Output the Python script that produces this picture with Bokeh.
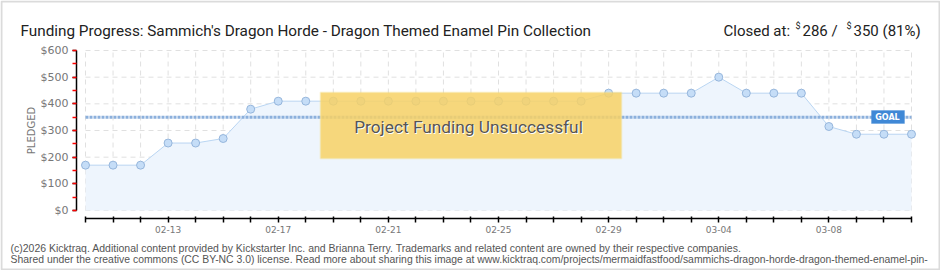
from bokeh.plotting import figure
from bokeh.models import (ColumnDataSource, Label, BoxAnnotation, FixedTicker,
                          SingleIntervalTicker, Range1d)
from bokeh.embed import file_html
from bokeh.resources import INLINE

# ---- data ----
dates = ["02-10", "02-11", "02-12", "02-13", "02-14", "02-15", "02-16", "02-17",
         "02-18", "02-19", "02-20", "02-21", "02-22", "02-23", "02-24", "02-25",
         "02-26", "02-27", "02-28", "02-29", "03-01", "03-02", "03-03", "03-04",
         "03-05", "03-06", "03-07", "03-08", "03-09", "03-10", "03-11"]
pledged = [170, 170, 170, 253, 253, 270, 380, 410, 410, 410, 410, 410, 410, 410,
           410, 410, 410, 410, 410, 440, 440, 440, 440, 500, 440, 440, 440, 315,
           286, 286, 286]
goal = 350
y_ticks = [0, 100, 200, 300, 400, 500, 600]
labeled_dates = ["02-13", "02-17", "02-21", "02-25", "02-29", "03-04", "03-08"]

day = list(range(len(dates)))
last = day[-1]

# ---- layout (pixels of the 940x270 canvas) ----
W, H = 940, 270
X0, X1 = 85, 911          # pixel of first / last day
Y0, Y600 = 210, 50        # pixel of $0 / $600
ppd = (X1 - X0) / last
ppv = (Y0 - Y600) / y_ticks[-1]

def dx(px):   # canvas x -> day
    return (px - X0) / ppd
def dy(py):   # canvas y -> dollars
    return (Y0 - py) / ppv
def sx(px):   # canvas x -> screen units (frame == canvas)
    return px
def sy(py):
    return H - py

p = figure(width=W, height=H, output_backend="svg", toolbar_location=None,
           min_border=0, x_range=Range1d(dx(0), dx(W)), y_range=Range1d(dy(H), dy(0)))
p.outline_line_color = None
p.background_fill_color = "white"
p.border_fill_color = "white"
p.xgrid.visible = False
p.ygrid.visible = False

# grid lines (drawn from ticks)
grid_kw = dict(line_color="#e0e0e0", line_width=1, line_dash="5 4")
p.segment(x0=day, y0=[y_ticks[0]] * len(day), x1=day, y1=[y_ticks[-1]] * len(day), **grid_kw)
p.segment(x0=[day[0]] * len(y_ticks), y0=y_ticks, x1=[last] * len(y_ticks), y1=y_ticks, **grid_kw)

src = ColumnDataSource(dict(day=day, pledged=pledged))
p.varea(x="day", y1=0, y2="pledged", source=src, fill_color="#eef5fd")
p.line(x="day", y="pledged", source=src, line_color="#b9d5f2", line_width=1)
p.scatter(x="day", y="pledged", source=src, size=8, fill_color="#c5ddf7",
          line_color="#96b6dc", line_width=1)

# goal line
p.line(x=[day[0], last], y=[goal, goal], line_color="#8cb0dc", line_width=3, line_dash="3 1")

# axes
xa = p.xaxis[0]
xa.fixed_location = dy(218)
xa.bounds = (day[0], last)
xa.ticker = FixedTicker(ticks=day, minor_ticks=[])
xa.major_label_overrides = {i: (d if d in labeled_dates else "") for i, d in zip(day, dates)}
xa.axis_line_color = "black"
xa.axis_line_width = 1.5
xa.major_tick_line_color = "black"
xa.major_tick_line_width = 1.5
xa.major_tick_in = 2
xa.major_tick_out = 4
xa.major_label_standoff = 3
xa.major_label_text_font = "DejaVu Sans"
xa.major_label_text_font_size = "9px"
xa.major_label_text_color = "#777777"

ya = p.yaxis[0]
ya.fixed_location = dx(76)
ya.bounds = (y_ticks[0], y_ticks[-1])
ya.ticker = SingleIntervalTicker(interval=100, num_minor_ticks=2)
ya.major_label_overrides = {v: "$%d" % v for v in y_ticks}
ya.axis_line_color = "black"
ya.axis_line_width = 1.5
ya.major_tick_line_color = "black"
ya.major_tick_line_width = 1.5
ya.major_tick_in = 0
ya.major_tick_out = 4
ya.minor_tick_line_color = "red"
ya.minor_tick_line_width = 1.5
ya.minor_tick_in = 0
ya.minor_tick_out = 4
ya.major_label_standoff = 4
ya.major_label_text_font = "DejaVu Sans"
ya.major_label_text_font_size = "11px"
ya.major_label_text_color = "#777777"

p.add_layout(Label(x=sx(31), y=sy(130), x_units="screen", y_units="screen",
                   text="PLEDGED", angle=90, angle_units="deg", text_align="center",
                   text_baseline="middle", text_font="DejaVu Sans",
                   text_font_size="10px", text_color="#777777"))

# overlay box
p.add_layout(BoxAnnotation(left=sx(320), right=sx(621), top=sy(92), bottom=sy(158),
                           left_units="screen", right_units="screen",
                           top_units="screen", bottom_units="screen",
                           fill_color="#f7d165", fill_alpha=0.85,
                           line_color="#f6e08e", line_width=2))
for d, col in ((1, "white"), (0, "#555555")):
    p.add_layout(Label(x=sx(468) + d, y=sy(126) - d, x_units="screen", y_units="screen",
                       text="Project Funding Unsuccessful", text_align="center",
                       text_baseline="middle", text_font="Roboto",
                       text_font_size="17.3px", text_color=col))

# GOAL tag
p.add_layout(BoxAnnotation(left=sx(871), right=sx(904), top=sy(110), bottom=sy(123),
                           left_units="screen", right_units="screen",
                           top_units="screen", bottom_units="screen",
                           fill_color="#3f88d6", fill_alpha=1, line_color="#3f88d6"))
p.add_layout(Label(x=sx(887), y=sy(116.5), x_units="screen", y_units="screen",
                   text="GOAL", text_align="center", text_baseline="middle",
                   text_font="DejaVu Sans", text_font_size="8px", text_color="white",
                   text_font_style="bold"))

# title
p.add_layout(Label(x=sx(20), y=sy(30), x_units="screen", y_units="screen",
                   text="Funding Progress: Sammich's Dragon Horde - Dragon Themed Enamel Pin Collection",
                   text_baseline="alphabetic", text_font="Roboto",
                   text_font_size="15.3px", text_color="#222222"))
for cx, txt, fs, up in ((723, "Closed at:", "15px", 0), (795, "$", "9px", 5),
                        (802, "286 /", "15px", 0), (846, "$", "9px", 5),
                        (853, "350 (81%)", "15px", 0)):
    p.add_layout(Label(x=sx(cx), y=sy(30 - up), x_units="screen", y_units="screen",
                       text=txt, text_baseline="alphabetic",
                       text_font="Roboto", text_font_size=fs,
                       text_color="#222222"))

# footer
p.add_layout(Label(x=sx(10), y=sy(247), x_units="screen", y_units="screen",
                   text="(c)2026 Kicktraq. Additional content provided by Kickstarter Inc. and Brianna Terry. Trademarks and related content are owned by their respective companies.",
                   text_baseline="alphabetic", text_font="Liberation Sans",
                   text_font_size="10.5px", text_color="#555555"))
p.add_layout(Label(x=sx(10), y=sy(259), x_units="screen", y_units="screen",
                   text="Shared under the creative commons (CC BY-NC 3.0) license. Read more about sharing this image at www.kicktraq.com/projects/mermaidfastfood/sammichs-dragon-horde-dragon-themed-enamel-pin-",
                   text_baseline="alphabetic", text_font="Liberation Sans",
                   text_font_size="10.4px", text_color="#555555"))

# outer border
p.add_layout(BoxAnnotation(left=sx(1), right=sx(W - 1), top=sy(1), bottom=sy(H - 1),
                           left_units="screen", right_units="screen",
                           top_units="screen", bottom_units="screen",
                           fill_alpha=0, line_color="#888888", line_width=2))

open("out.html", "w").write(file_html(p, INLINE))
